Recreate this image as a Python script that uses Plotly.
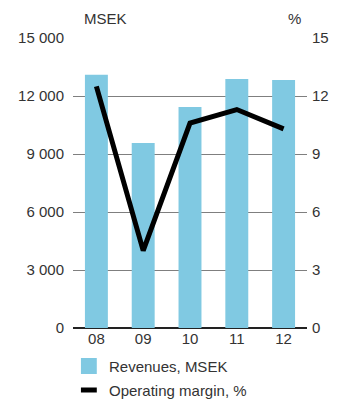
import plotly.graph_objects as go

years = ["08", "09", "10", "11", "12"]
revenues = [13100, 9570, 11430, 12880, 12830]
margin = [12.5, 4.0, 10.6, 11.3, 10.3]
left_ticks = [0, 3000, 6000, 9000, 12000, 15000]
left_ticktext = ["0", "3 000", "6 000", "9 000", "12 000", "15 000"]
right_ticks = [0, 3, 6, 9, 12, 15]

BAR = "#80C9E2"
TXT = "#333333"
FONT = "Liberation Sans, Arial, sans-serif"

fig = go.Figure()
fig.add_trace(go.Bar(x=years, y=revenues, marker=dict(color=BAR, line=dict(width=0)),
                     width=0.49, name="Revenues, MSEK", yaxis="y"))
fig.add_trace(go.Scatter(x=years, y=margin, mode="lines", line=dict(color="black", width=5),
                         name="Operating margin, %", yaxis="y2"))

fig.update_layout(
    width=341, height=401,
    margin=dict(l=73, r=32, t=38, b=73),
    paper_bgcolor="white", plot_bgcolor="white",
    showlegend=False,
    font=dict(family=FONT, size=15, color=TXT),
    xaxis=dict(type="category", range=[-0.5, 4.5], showgrid=False, showline=False,
               zeroline=False, ticks="", tickfont=dict(size=15, color=TXT)),
    yaxis=dict(range=[0, 15000], tickvals=left_ticks, ticktext=left_ticktext,
               showgrid=True, gridcolor="#7f7f7f", gridwidth=1, zeroline=True,
               zerolinecolor="#222222", zerolinewidth=1.5, showline=False,
               ticks="", ticklabelstandoff=8, tickfont=dict(size=15, color=TXT)),
    yaxis2=dict(range=[0, 15], tickvals=right_ticks, overlaying="y", side="right",
                showgrid=False, zeroline=False, showline=False, ticks="",
                ticklabelstandoff=4, tickfont=dict(size=15, color=TXT)),
    annotations=[
        dict(text="MSEK", xref="paper", yref="paper", x=(82 - 73) / 236, y=(328 - 19) / 290,
             xanchor="left", yanchor="middle", showarrow=False, font=dict(size=15, color=TXT)),
        dict(text="%", xref="paper", yref="paper", x=(305 - 73) / 236, y=(328 - 19) / 290,
             xanchor="right", yanchor="middle", showarrow=False, font=dict(size=15, color=TXT)),
        dict(text="Revenues, MSEK", xref="paper", yref="paper", x=(107 - 73) / 236,
             y=(328 - 366) / 290, xanchor="left", yanchor="middle", showarrow=False,
             font=dict(size=15, color=TXT)),
        dict(text="Operating margin, %", xref="paper", yref="paper", x=(107 - 73) / 236,
             y=(328 - 390) / 290, xanchor="left", yanchor="middle", showarrow=False,
             font=dict(size=15, color=TXT)),
    ],
    shapes=[
        dict(type="rect", xref="paper", yref="paper", x0=(81 - 73) / 236, x1=(97 - 73) / 236,
             y0=(328 - 374) / 290, y1=(328 - 358) / 290, fillcolor=BAR, line=dict(width=0)),
        dict(type="line", xref="paper", yref="paper", x0=(81 - 73) / 236, x1=(97 - 73) / 236,
             y0=(328 - 390) / 290, y1=(328 - 390) / 290, line=dict(color="black", width=5)),
    ],
)

fig.write_html("out.html", config={"displayModeBar": False},
               post_script="document.body.style.margin='0';document.body.style.padding='0';")
